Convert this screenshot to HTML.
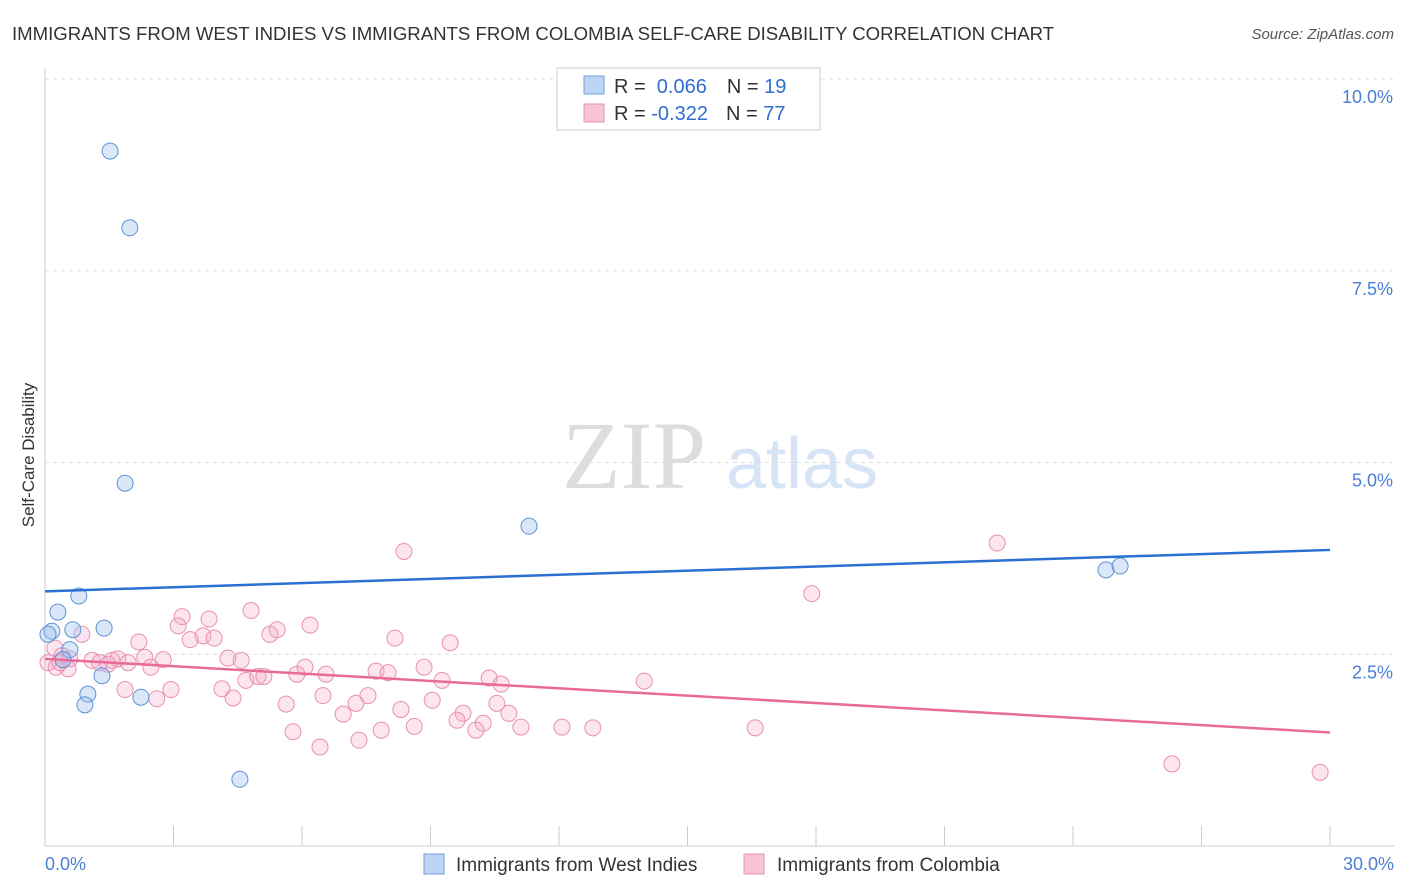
<!DOCTYPE html>
<html><head><meta charset="utf-8"><style>
body{margin:0;background:#fff;font-family:"Liberation Sans",sans-serif;}
svg{display:block}
</style></head><body>
<svg id="c" width="1406" height="892" xmlns="http://www.w3.org/2000/svg">
<text x="12" y="40" font-size="18.6" fill="#333">IMMIGRANTS FROM WEST INDIES VS IMMIGRANTS FROM COLOMBIA SELF-CARE DISABILITY CORRELATION CHART</text>
<text x="1394" y="39" font-size="15" fill="#555" text-anchor="end" font-style="italic">Source: ZipAtlas.com</text>
<text x="634" y="488" font-size="96" fill="#ddd" font-family="Liberation Serif,serif" text-anchor="middle">ZIP</text>
<text x="802" y="488" font-size="72" fill="#d6e4f5" text-anchor="middle">atlas</text>
<text transform="translate(34,455) rotate(-90)" font-size="17" fill="#333" text-anchor="middle">Self-Care Disability</text>
<g id="grid"></g><g id="pts"></g><g id="trend"></g>
<g>
<rect x="557" y="68" width="263" height="62" fill="#fff" stroke="#ccc"/>
<rect x="584" y="76" width="20" height="18" fill="#bcd5f5" stroke="#6fa0dc"/>
<rect x="584" y="104" width="20" height="18" fill="#f8c5d6" stroke="#e890b0"/>
<text x="614" y="93" font-size="20" fill="#333">R = <tspan fill="#2f6fd0">&#160;0.066</tspan><tspan dx="20">N = </tspan><tspan fill="#2f6fd0">19</tspan></text>
<text x="614" y="120" font-size="20" fill="#333">R = <tspan fill="#2f6fd0">-0.322</tspan><tspan dx="18">N = </tspan><tspan fill="#2f6fd0">77</tspan></text>
</g>
<g>
<rect x="424" y="854" width="20" height="20" fill="#bcd5f5" stroke="#6fa0dc"/>
<text x="456" y="871" font-size="19" fill="#333">Immigrants from West Indies</text>
<rect x="744" y="854" width="20" height="20" fill="#f8c5d6" stroke="#e890b0"/>
<text x="777" y="871" font-size="19" fill="#333">Immigrants from Colombia</text>
</g>
</svg>
<script>
const yTicks=[2.5,5,7.5,10];
const yTickLabels=["2.5%","5.0%","7.5%","10.0%"];
const xTicks=[0,3,6,9,12,15,18,21,24,27,30];
const blueX=[1.52,1.98,1.87,11.30,24.77,25.10,0.79,0.30,0.16,0.07,1.38,0.65,0.58,0.42,1.33,1.00,0.93,2.24,4.55];
const blueY=[9.06,8.06,4.73,4.17,3.60,3.65,3.26,3.05,2.80,2.76,2.84,2.82,2.56,2.43,2.22,1.98,1.84,1.94,0.87];
const pinkX=[8.38,22.23,17.9,4.81,3.20,3.83,6.19,3.11,5.42,0.86,5.25,8.17,2.19,9.46,3.69,3.95,3.39,0.23,0.40,0.58,1.10,1.28,1.56,1.70,1.94,2.33,2.76,0.07,0.26,0.54,2.47,4.27,4.58,6.07,5.88,6.56,7.73,8.01,8.85,9.27,10.37,10.65,13.99,4.69,4.97,5.11,1.87,2.94,4.13,6.49,7.54,4.39,2.61,5.63,7.26,9.04,10.55,8.31,9.76,10.83,6.96,9.62,10.23,8.62,11.11,12.07,12.79,16.58,5.79,7.85,10.06,7.33,6.42,26.31,29.77,1.47,0.35];
const pinkY=[3.84,3.95,3.29,3.07,2.99,2.96,2.88,2.87,2.82,2.76,2.76,2.71,2.66,2.65,2.74,2.71,2.69,2.58,2.48,2.44,2.42,2.39,2.42,2.44,2.39,2.46,2.43,2.39,2.33,2.31,2.33,2.45,2.42,2.33,2.24,2.24,2.28,2.26,2.33,2.16,2.19,2.11,2.15,2.16,2.21,2.21,2.04,2.04,2.05,1.96,1.96,1.93,1.92,1.85,1.86,1.90,1.86,1.78,1.73,1.73,1.72,1.64,1.60,1.56,1.55,1.55,1.54,1.54,1.49,1.51,1.51,1.38,1.29,1.07,0.96,2.37,2.39];
const blueTrend=[3.32,3.86];
const pinkTrend=[2.44,1.48];
const NS="http://www.w3.org/2000/svg";
const x=v=>45+v/30*1285;
const y=v=>846-v*76.7;
function mk(t,a,p){const e=document.createElementNS(NS,t);for(const k in a)e.setAttribute(k,a[k]);p.appendChild(e);return e;}
const g=document.getElementById('grid');
const ax=mk('line',{x1:45,y1:68,x2:45,y2:846,stroke:'#ccc'},g);


const bx=mk('line',{x1:45,y1:846,x2:1394,y2:846,stroke:'#ccc'},g);


yTicks.forEach((t,i)=>{
 const l=mk('line',{x1:45,y1:y(t),x2:1394,y2:y(t),stroke:'#ddd','stroke-dasharray':'4,4'},g);
 
 
 const tx=mk('text',{x:1393,y:y(t)+24,'font-size':18,fill:'#4a7fd4','text-anchor':'end'},g);
 tx.textContent=yTickLabels[i];
 
 
});
xTicks.forEach(t=>{
 const l=mk('line',{x1:x(t),y1:826,x2:x(t),y2:846,stroke:'#ccc'},g);
 
 
});
const x0=mk('text',{x:45,y:870,'font-size':18,fill:'#4a7fd4'},g);x0.textContent='0.0%';


const x1=mk('text',{x:1394,y:870,'font-size':18,fill:'#4a7fd4','text-anchor':'end'},g);x1.textContent='30.0%';


const p=document.getElementById('pts');
pinkX.forEach((v,i)=>{
 const c=mk('circle',{cx:x(v),cy:y(pinkY[i]),r:8,fill:'rgba(245,170,200,0.3)',stroke:'#e890b0','stroke-width':1},p);
 
 
});
blueX.forEach((v,i)=>{
 const c=mk('circle',{cx:x(v),cy:y(blueY[i]),r:8,fill:'rgba(160,195,240,0.4)',stroke:'#5f93d6','stroke-width':1},p);
 
 
});
const tr=document.getElementById('trend');
const b=mk('line',{x1:x(0),y1:y(blueTrend[0]),x2:x(30),y2:y(blueTrend[1]),stroke:'#2a6fd2','stroke-width':2.5},tr);


const pk=mk('line',{x1:x(0),y1:y(pinkTrend[0]),x2:x(30),y2:y(pinkTrend[1]),stroke:'#e86a98','stroke-width':2.5},tr);


</script>
</body></html>
